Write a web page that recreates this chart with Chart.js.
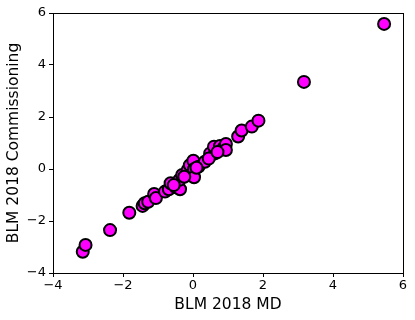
<!DOCTYPE html>
<html>
<head>
<meta charset="utf-8">
<script src="https://cdn.jsdelivr.net/npm/chart.js@4"></script>
<style>
html,body{margin:0;padding:0;background:#fff;}
#wrap{width:415px;height:320px;}
</style>
</head>
<body>
<div id="wrap"><canvas id="c" width="415" height="320"></canvas></div>
<script>
const xLabel = "BLM 2018 MD";
const yLabel = "BLM 2018 Commissioning";
const xTicks = [-4, -2, 0, 2, 4, 6];
const yTicks = [-4, -2, 0, 2, 4, 6];
const mdValues = [5.46, 3.17, -3.15, -3.07, -2.37, -1.82, -1.44, -1.38, -1.28, -1.11, -1.06, -0.80, -0.69, -0.64, -0.49, -0.45, -0.37, -0.39, -0.31, -0.18, -0.15, -0.09, 0.01, 0.03, 0.03, 0.16, 0.34, 0.49, 0.63, 0.60, 0.77, 0.87, 0.94, 0.94, 1.29, 1.39, 1.68, 1.87, -0.55, -0.25, 0.10, 0.45, 0.70];
const commValues = [5.58, 3.35, -3.18, -2.92, -2.35, -1.68, -1.42, -1.32, -1.26, -0.96, -1.12, -0.87, -0.78, -0.55, -0.70, -0.53, -0.78, -0.42, -0.23, -0.19, -0.04, 0.15, 0.32, -0.01, -0.32, 0.09, 0.28, 0.60, 0.60, 0.86, 0.88, 0.80, 0.96, 0.73, 1.25, 1.48, 1.63, 1.86, -0.62, -0.30, 0.05, 0.40, 0.65];

const points = mdValues.map((x, i) => ({x: x, y: commValues[i]}));
const fmt = v => String(v).replace('-', '\u2212');

const frame = {
  id: 'frame',
  afterDraw(chart) {
    const a = chart.chartArea, ctx = chart.ctx;
    ctx.save();
    ctx.strokeStyle = '#000';
    ctx.lineWidth = 1;
    ctx.strokeRect(Math.round(a.left) + 0.5, Math.round(a.top) + 0.5, Math.round(a.right - a.left), Math.round(a.bottom - a.top));
    ctx.restore();
  }
};

Chart.defaults.font.family = "'DejaVu Sans', sans-serif";
Chart.defaults.color = '#000';

new Chart(document.getElementById('c'), {
  type: 'scatter',
  data: {
    datasets: [{
      data: points,
      backgroundColor: '#ff00ff',
      borderColor: '#000',
      borderWidth: 2,
      pointRadius: 6,
      pointHoverRadius: 6
    }]
  },
  options: {
    responsive: false,
    animation: false,
    events: [],
    layout: {padding: {left: 5, top: 13, right: 12, bottom: 6}},
    plugins: {legend: {display: false}, tooltip: {enabled: false}},
    scales: {
      x: {
        type: 'linear', min: xTicks[0], max: xTicks[xTicks.length - 1],
        afterBuildTicks: s => { s.ticks = xTicks.map(v => ({value: v})); },
        afterFit: s => { s.height = 41; },
        grid: {display: true, drawOnChartArea: false, drawTicks: true, tickLength: 4, color: '#000'},
        border: {display: true, color: '#000', width: 1},
        ticks: {font: {size: 13}, padding: 1, callback: v => fmt(v), maxRotation: 0},
        title: {display: true, text: xLabel, font: {size: 15.5}, padding: {top: 0, bottom: 0}}
      },
      y: {
        type: 'linear', min: yTicks[0], max: yTicks[yTicks.length - 1],
        afterBuildTicks: s => { s.ticks = yTicks.map(v => ({value: v})); },
        afterFit: s => { s.width = 48; },
        grid: {display: true, drawOnChartArea: false, drawTicks: true, tickLength: 4, color: '#000'},
        border: {display: true, color: '#000', width: 1},
        ticks: {font: {size: 13}, padding: 3, callback: v => fmt(v)},
        title: {display: true, text: yLabel, font: {size: 15.5}, padding: {top: 0, bottom: 2}}
      }
    }
  },
  plugins: [frame]
});
</script>
</body>
</html>
